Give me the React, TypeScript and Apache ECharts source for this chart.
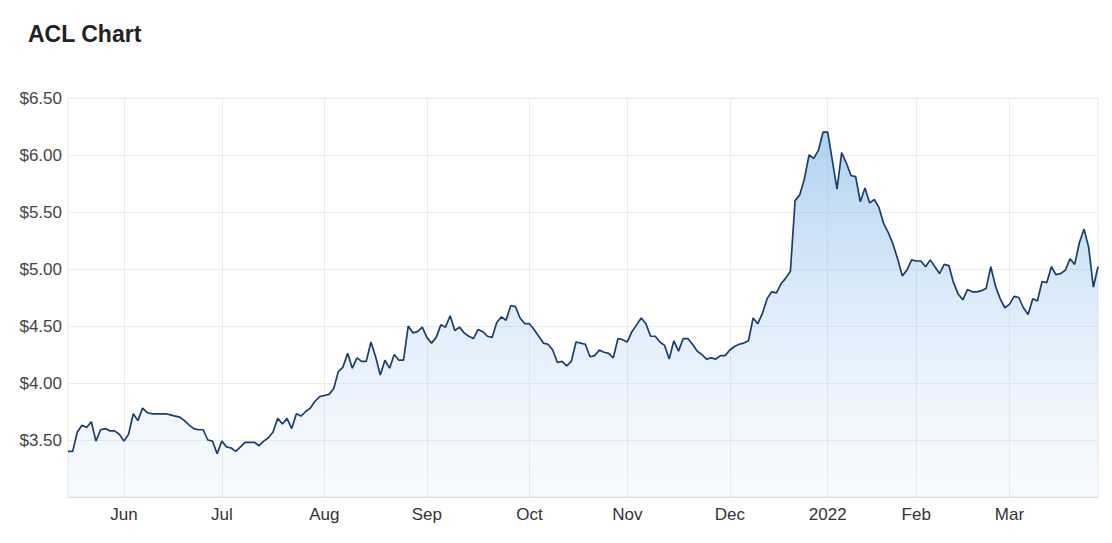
import React, { useEffect, useRef } from "react";
import * as echarts from "echarts";

// Trading days (ASX) per month and closing prices
const may2021Days = [14, 17, 18, 19, 20, 21, 24, 25, 26, 27, 28, 31];
const may2021Prices = [3.40, 3.40, 3.57, 3.63, 3.61, 3.66, 3.49, 3.59, 3.60, 3.58, 3.58, 3.55];

const jun2021Days = [1, 2, 3, 4, 7, 8, 9, 10, 11, 15, 16, 17, 18, 21, 22, 23, 24, 25, 28, 29, 30];
const jun2021Prices = [3.49, 3.55, 3.73, 3.67, 3.78, 3.74, 3.73, 3.73, 3.73, 3.73, 3.72, 3.71, 3.70, 3.67, 3.63, 3.60, 3.59, 3.59, 3.50, 3.49, 3.38];

const jul2021Days = [1, 2, 5, 6, 7, 8, 9, 12, 13, 14, 15, 16, 19, 20, 21, 22, 23, 26, 27, 28, 29, 30];
const jul2021Prices = [3.49, 3.44, 3.43, 3.40, 3.44, 3.48, 3.48, 3.48, 3.45, 3.49, 3.52, 3.57, 3.69, 3.64, 3.69, 3.60, 3.73, 3.71, 3.75, 3.78, 3.84, 3.88];

const aug2021Days = [2, 3, 4, 5, 6, 9, 10, 11, 12, 13, 16, 17, 18, 19, 20, 23, 24, 25, 26, 27, 30, 31];
const aug2021Prices = [3.89, 3.90, 3.95, 4.10, 4.14, 4.26, 4.13, 4.22, 4.19, 4.19, 4.36, 4.23, 4.07, 4.20, 4.13, 4.25, 4.20, 4.20, 4.50, 4.44, 4.45, 4.49];

const sep2021Days = [1, 2, 3, 6, 7, 8, 9, 10, 13, 14, 15, 16, 17, 20, 21, 22, 23, 24, 27, 28, 29, 30];
const sep2021Prices = [4.40, 4.35, 4.40, 4.51, 4.49, 4.59, 4.46, 4.49, 4.44, 4.41, 4.39, 4.47, 4.45, 4.41, 4.40, 4.53, 4.58, 4.55, 4.68, 4.67, 4.57, 4.52];

const oct2021Days = [1, 4, 5, 6, 7, 8, 11, 12, 13, 14, 15, 18, 19, 20, 21, 22, 25, 26, 27, 28, 29];
const oct2021Prices = [4.52, 4.47, 4.41, 4.35, 4.34, 4.29, 4.18, 4.19, 4.15, 4.19, 4.36, 4.35, 4.34, 4.23, 4.24, 4.29, 4.27, 4.26, 4.22, 4.39, 4.38];

const nov2021Days = [1, 2, 3, 4, 5, 8, 9, 10, 11, 12, 15, 16, 17, 18, 19, 22, 23, 24, 25, 26, 29, 30];
const nov2021Prices = [4.36, 4.45, 4.51, 4.57, 4.52, 4.41, 4.41, 4.36, 4.33, 4.21, 4.37, 4.28, 4.39, 4.39, 4.34, 4.28, 4.25, 4.21, 4.22, 4.21, 4.24, 4.24];

const dec2021Days = [1, 2, 3, 6, 7, 8, 9, 10, 13, 14, 15, 16, 17, 20, 21, 22, 23, 24, 29, 30, 31];
const dec2021Prices = [4.29, 4.32, 4.34, 4.35, 4.37, 4.57, 4.52, 4.61, 4.74, 4.80, 4.79, 4.87, 4.92, 4.98, 5.60, 5.65, 5.79, 6.00, 5.97, 6.04, 6.20];

const jan2022Days = [4, 5, 6, 7, 10, 11, 12, 13, 14, 17, 18, 19, 20, 21, 24, 25, 27, 28, 31];
const jan2022Prices = [6.20, 5.95, 5.70, 6.02, 5.93, 5.82, 5.81, 5.59, 5.71, 5.58, 5.61, 5.54, 5.40, 5.32, 5.22, 5.09, 4.94, 4.99, 5.08];

const feb2022Days = [1, 2, 3, 4, 7, 8, 9, 10, 11, 14, 15, 16, 17, 18, 21, 22, 23, 24, 25, 28];
const feb2022Prices = [5.07, 5.07, 5.02, 5.08, 5.02, 4.96, 5.04, 5.03, 4.88, 4.78, 4.73, 4.82, 4.80, 4.80, 4.81, 4.83, 5.02, 4.85, 4.74, 4.66];

const mar2022Days = [1, 2, 3, 4, 7, 8, 9, 10, 11, 14, 15, 16, 17, 18, 21, 22, 23, 24, 25, 28];
const mar2022Prices = [4.69, 4.76, 4.75, 4.66, 4.60, 4.74, 4.72, 4.89, 4.88, 5.02, 4.95, 4.96, 4.99, 5.09, 5.04, 5.23, 5.35, 5.19, 4.84, 5.02];

const monthNames = ["Jan", "Feb", "Mar", "Apr", "May", "Jun", "Jul", "Aug", "Sep", "Oct", "Nov", "Dec"];
const yTicks = [3.5, 4.0, 4.5, 5.0, 5.5, 6.0, 6.5];

const months = [
  { year: 2021, month: 5, days: may2021Days, prices: may2021Prices },
  { year: 2021, month: 6, days: jun2021Days, prices: jun2021Prices },
  { year: 2021, month: 7, days: jul2021Days, prices: jul2021Prices },
  { year: 2021, month: 8, days: aug2021Days, prices: aug2021Prices },
  { year: 2021, month: 9, days: sep2021Days, prices: sep2021Prices },
  { year: 2021, month: 10, days: oct2021Days, prices: oct2021Prices },
  { year: 2021, month: 11, days: nov2021Days, prices: nov2021Prices },
  { year: 2021, month: 12, days: dec2021Days, prices: dec2021Prices },
  { year: 2022, month: 1, days: jan2022Days, prices: jan2022Prices },
  { year: 2022, month: 2, days: feb2022Days, prices: feb2022Prices },
  { year: 2022, month: 3, days: mar2022Days, prices: mar2022Prices },
];

const pad = (n: number) => (n < 10 ? "0" + n : "" + n);

const categories: string[] = [];
const values: number[] = [];
const monthStart = new Set<number>();
months.forEach((m, mi) => {
  m.days.forEach((d, di) => {
    if (di === 0 && mi > 0) monthStart.add(categories.length);
    categories.push(`${m.year}-${pad(m.month)}-${pad(d)}`);
    values.push(m.prices[di]);
  });
});

const FONT = "'Liberation Sans', Arial, sans-serif";

export default function App() {
  const ref = useRef<HTMLDivElement>(null);
  useEffect(() => {
    if (!ref.current) return;
    const chart = echarts.init(ref.current, undefined, { renderer: "svg" });
    chart.setOption({
      animation: false,
      backgroundColor: "#ffffff",
      title: {
        text: "ACL Chart",
        left: 23,
        top: 17,
        textStyle: { fontFamily: FONT, fontSize: 23, fontWeight: "bold", color: "#222222" },
      },
      grid: {
        left: 68,
        right: 14,
        top: 98,
        bottom: 46,
        show: true,
        borderColor: "#e8e8e8",
        borderWidth: 1,
        containLabel: false,
      },
      xAxis: {
        type: "category",
        data: categories,
        boundaryGap: false,
        axisLine: { show: true, lineStyle: { color: "#dcdcdc", width: 1 } },
        axisTick: { show: false },
        axisLabel: {
          interval: (index: number) => monthStart.has(index),
          formatter: (v: string) => {
            const [y, mo] = v.split("-").map(Number);
            return mo === 1 ? String(y) : monthNames[mo - 1];
          },
          color: "#333333",
          fontFamily: FONT,
          fontSize: 17,
          margin: 9,
        },
        splitLine: {
          show: true,
          interval: (index: number) => monthStart.has(index),
          lineStyle: { color: "#ececec", width: 1 },
        },
      },
      yAxis: {
        type: "value",
        min: 3.0,
        max: 6.5,
        interval: 0.5,
        axisLine: { show: false },
        axisTick: { show: false },
        axisLabel: {
          showMinLabel: false,
          formatter: (v: number) => (yTicks.some((t) => Math.abs(t - v) < 1e-6) ? "$" + v.toFixed(2) : ""),
          color: "#444444",
          fontFamily: FONT,
          fontSize: 17,
          margin: 6,
        },
        splitLine: { show: true, lineStyle: { color: "#ececec", width: 1 } },
      },
      series: [
        {
          type: "line",
          data: values,
          showSymbol: false,
          symbol: "none",
          lineStyle: { color: "#1b3d6f", width: 1.7 },
          itemStyle: { color: "#1b3d6f" },
          areaStyle: {
            opacity: 1,
            color: new echarts.graphic.LinearGradient(0, 0, 0, 1, [
              { offset: 0, color: "rgba(110, 172, 228, 0.55)" },
              { offset: 0.5, color: "rgba(150, 195, 238, 0.3)" },
              { offset: 1, color: "rgba(220, 235, 250, 0.2)" },
            ]),
          },
        },
      ],
    });
    return () => chart.dispose();
  }, []);
  return (
    <div
      ref={ref}
      style={{ position: "absolute", left: 0, top: 0, width: 1112, height: 543 }}
    />
  );
}
